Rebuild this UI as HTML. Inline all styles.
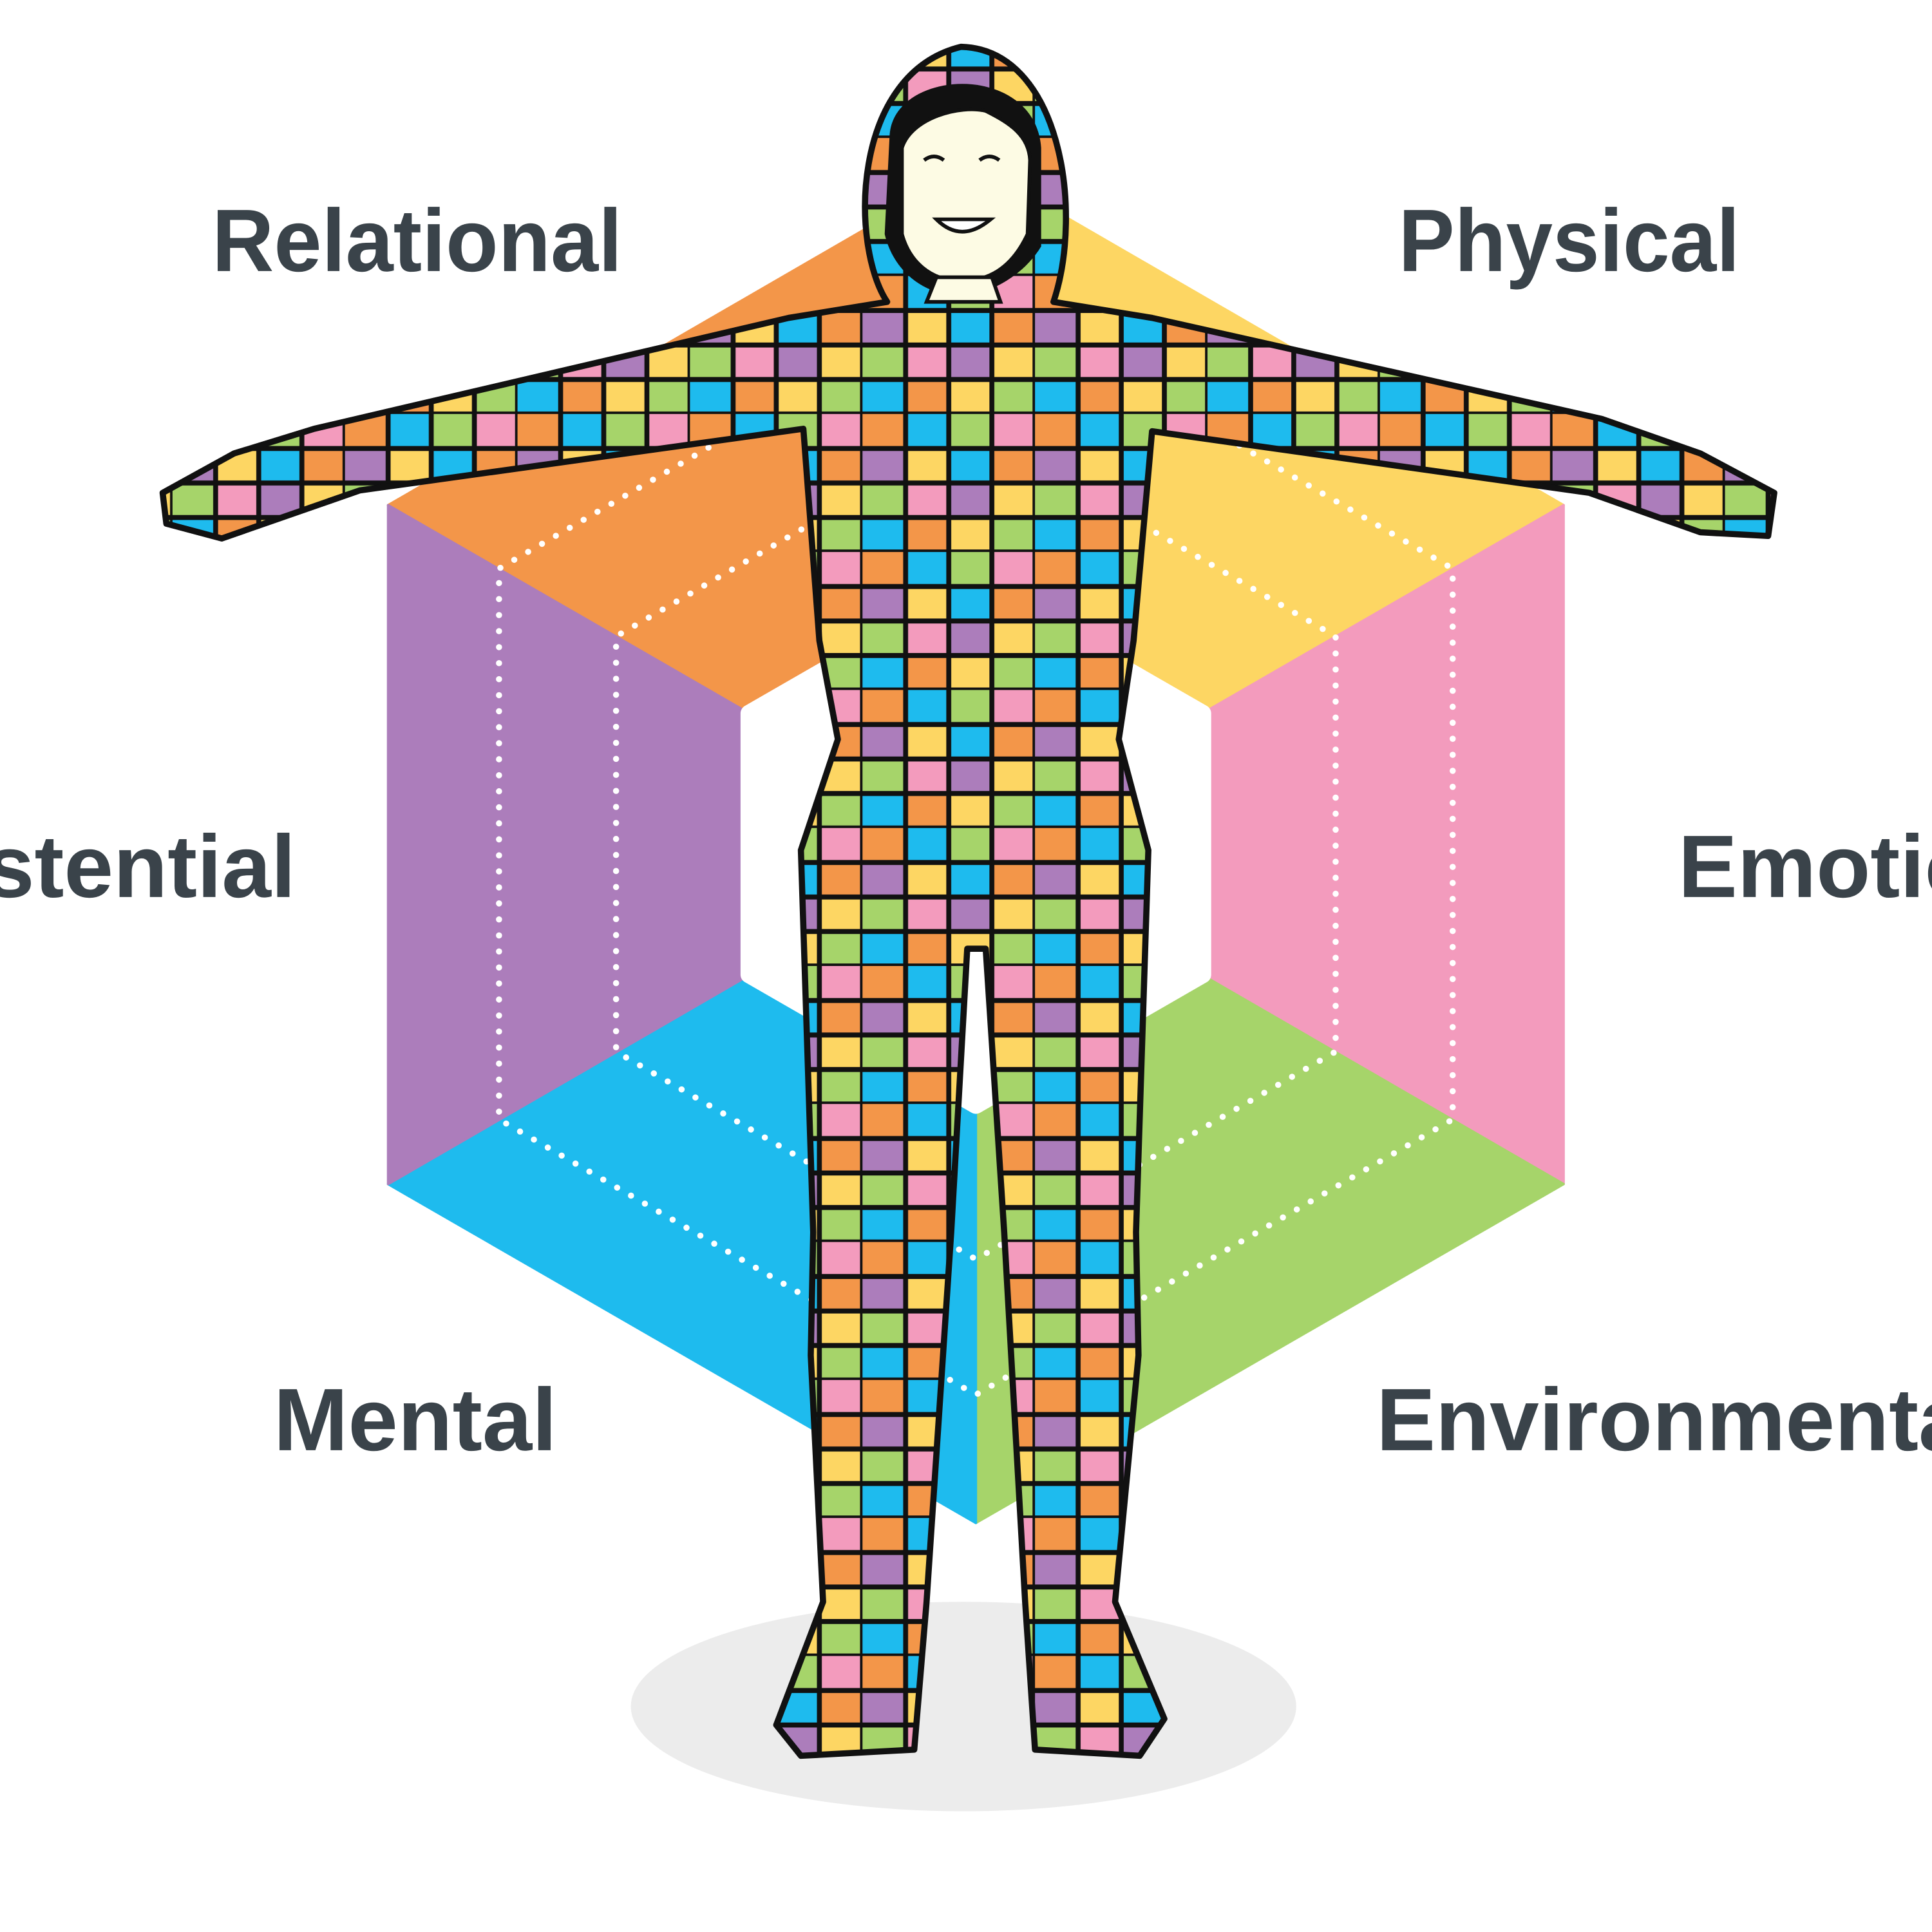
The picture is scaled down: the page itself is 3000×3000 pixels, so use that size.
<!DOCTYPE html>
<html><head><meta charset="utf-8"><style>html,body{margin:0;padding:0;background:#fff}svg{display:block}</style></head>
<body>
<svg width="3000" height="3000" viewBox="0 0 1568 1568" xmlns="http://www.w3.org/2000/svg">
<defs>
<pattern id="tiles" width="140" height="112" patternUnits="userSpaceOnUse">
<rect x="0" y="0" width="35" height="28" fill="#f39649"/><rect x="35" y="0" width="35" height="28" fill="#1ebbee"/><rect x="70" y="0" width="35" height="28" fill="#a6d46a"/><rect x="105" y="0" width="35" height="28" fill="#f39bbd"/>
<rect x="0" y="28" width="35" height="28" fill="#ac7dbb"/><rect x="35" y="28" width="35" height="28" fill="#fdd663"/><rect x="70" y="28" width="35" height="28" fill="#1ebbee"/><rect x="105" y="28" width="35" height="28" fill="#f39649"/>
<rect x="0" y="56" width="35" height="28" fill="#a6d46a"/><rect x="35" y="56" width="35" height="28" fill="#f39bbd"/><rect x="70" y="56" width="35" height="28" fill="#ac7dbb"/><rect x="105" y="56" width="35" height="28" fill="#fdd663"/>
<rect x="0" y="84" width="35" height="28" fill="#1ebbee"/><rect x="35" y="84" width="35" height="28" fill="#f39649"/><rect x="70" y="84" width="35" height="28" fill="#fdd663"/><rect x="105" y="84" width="35" height="28" fill="#a6d46a"/>
<path d="M35 0V112M70 0V112M105 0V112M140 0V112M0 28H140M0 56H140M0 84H140M0 112H140" stroke="#111" stroke-width="4" fill="none"/>
</pattern>
</defs>
<g stroke-linejoin="round">
<polygon points="792,685 315,410 792,134" fill="#f39649" stroke="#f39649" stroke-width="2"/>
<polygon points="792,685 792,134 1269,410" fill="#fdd663" stroke="#fdd663" stroke-width="2"/>
<polygon points="792,685 1269,410 1269,961" fill="#f39bbd" stroke="#f39bbd" stroke-width="2"/>
<polygon points="792,685 1269,961 792,1236" fill="#a6d46a" stroke="#a6d46a" stroke-width="2"/>
<polygon points="792,685 792,1236 315,961" fill="#1ebbee" stroke="#1ebbee" stroke-width="2"/>
<polygon points="792,685 315,961 315,410" fill="#ac7dbb" stroke="#ac7dbb" stroke-width="2"/>
</g>
<polygon points="792,238 1179,461.5 1179,908.5 792,1132 405,908.5 405,461.5" fill="none" stroke="#fff" stroke-width="5" stroke-linecap="round" stroke-dasharray="0 13"/>
<polygon points="792,348 1084,516.5 1084,853.5 792,1022 500,853.5 500,516.5" fill="none" stroke="#fff" stroke-width="5" stroke-linecap="round" stroke-dasharray="0 13"/>
<polygon points="792,473 976,579 976,791 792,897 608,791 608,579" fill="#fff" stroke="#fff" stroke-width="14" stroke-linejoin="round"/>
<ellipse cx="782" cy="1385" rx="270" ry="85" fill="#ececec"/>
<g font-family="Liberation Sans, sans-serif" font-weight="bold" font-size="72" fill="#3a434a">
<text x="172" y="220" textLength="333" lengthAdjust="spacingAndGlyphs">Relational</text>
<text x="1135" y="220" textLength="277" lengthAdjust="spacingAndGlyphs">Physical</text>
<text x="240" y="728" text-anchor="end">Existential</text>
<text x="1362" y="728">Emotional</text>
<text x="222" y="1177" textLength="230" lengthAdjust="spacingAndGlyphs">Mental</text>
<text x="1117" y="1177">Environmental</text>
</g>
<path d="M720,245 C690,200 690,60 780,38 C860,40 880,170 855,245 L935,258 L1300,340 L1380,368 L1440,400 L1435,435 L1380,432 L1290,400 L935,350 L920,520 L908,600 L932,690 L922,1000 L924,1100 L905,1300 L945,1395 L925,1425 L840,1420 L832,1300 L815,1000 L800,770 L785,770 L772,1000 L752,1300 L742,1420 L650,1425 L630,1400 L668,1300 L658,1100 L660,1000 L650,690 L680,600 L665,520 L652,348 L292,398 L180,437 L135,425 L132,400 L190,368 L255,348 L640,258 Z" fill="url(#tiles)" stroke="#111" stroke-width="5" stroke-linejoin="round"/>
<path d="M722,110 C725,55 840,50 845,120 L845,200 C830,225 800,240 780,240 C750,240 725,220 718,190 Z" fill="#111"/>
<path d="M732,120 C740,95 780,85 800,90 C820,100 835,110 836,130 L834,190 C820,220 800,228 780,228 C755,228 738,212 732,190 Z" fill="#fdfbe4" stroke="#111" stroke-width="3"/>
<path d="M752,245 L760,225 L805,225 L812,245 Z" fill="#fdfbe4" stroke="#111" stroke-width="3"/>
<path d="M750,130 q8,-6 16,0 M795,130 q8,-6 16,0" stroke="#111" stroke-width="3" fill="none"/>
<path d="M760,178 q20,20 44,0 Z" fill="#fff" stroke="#111" stroke-width="3"/>
</svg>
</body></html>
